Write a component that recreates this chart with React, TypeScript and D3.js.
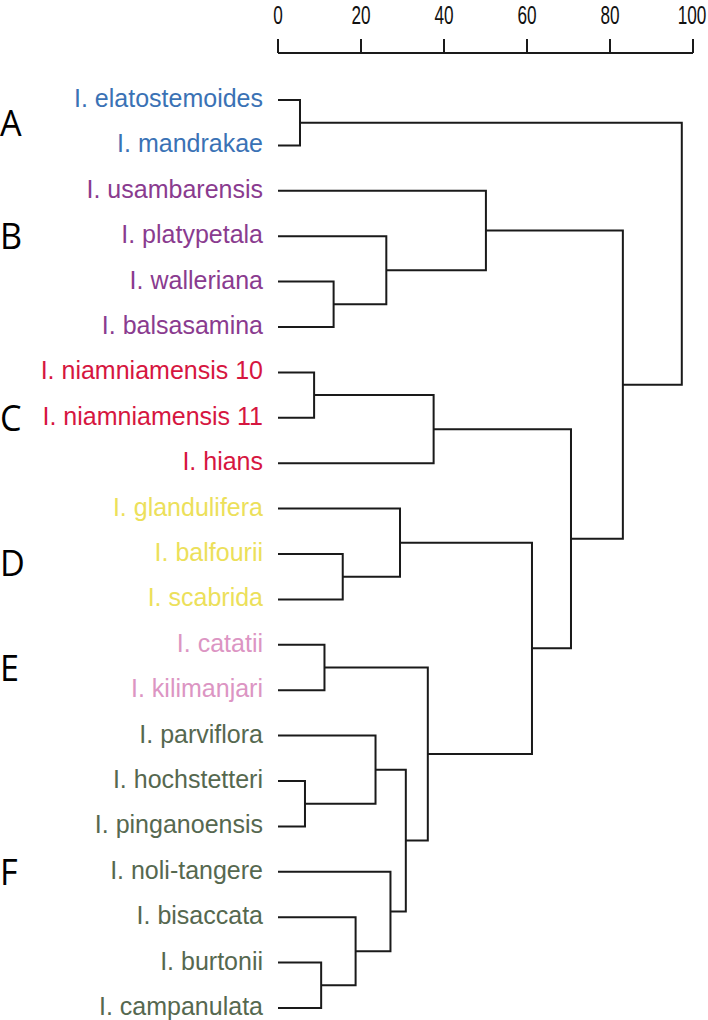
import React from "react";
import * as d3 from "d3";

// ---- Data ----
const leaves = [
  "I. elatostemoides",
  "I. mandrakae",
  "I. usambarensis",
  "I. platypetala",
  "I. walleriana",
  "I. balsasamina",
  "I. niamniamensis 10",
  "I. niamniamensis 11",
  "I. hians",
  "I. glandulifera",
  "I. balfourii",
  "I. scabrida",
  "I. catatii",
  "I. kilimanjari",
  "I. parviflora",
  "I. hochstetteri",
  "I. pinganoensis",
  "I. noli-tangere",
  "I. bisaccata",
  "I. burtonii",
  "I. campanulata",
];
const leafGroup = ["A","A","B","B","B","B","C","C","C","D","D","D","E","E","F","F","F","F","F","F","F"];

const groupNames = ["A", "B", "C", "D", "E", "F"];
const groupColors = ["#3a72b5", "#8a3b8f", "#d6163f", "#ece05a", "#dc95c3", "#56684f"];
const groupLetterRow = [0.5, 3, 7, 10.2, 12.5, 17];

// merges: [childA, childB, height]; strings = leaf names, numbers = earlier merge index
const mergeA: (string | number)[] = [
  "I. elatostemoides", "I. walleriana", "I. platypetala", "I. usambarensis",
  "I. niamniamensis 10", 4, "I. balfourii", "I. glandulifera",
  "I. catatii", "I. hochstetteri", "I. parviflora", "I. burtonii",
  "I. bisaccata", "I. noli-tangere", 10, 8, 7, 5, 3, 0,
];
const mergeB: (string | number)[] = [
  "I. mandrakae", "I. balsasamina", 1, 2,
  "I. niamniamensis 11", "I. hians", "I. scabrida", 6,
  "I. kilimanjari", "I. pinganoensis", 9, "I. campanulata",
  11, 12, 13, 14, 15, 16, 17, 18,
];
const mergeHeight = [
  5.3, 13.4, 26.1, 50.1,
  8.7, 37.5, 15.6, 29.4,
  11.2, 6.5, 23.5, 10.4,
  18.7, 27.1, 30.8, 36.1, 61.2, 70.6, 83.1, 97.3,
];

const axisTicks = [0, 20, 40, 60, 80, 100];

// ---- Layout ----
const W = 708;
const H = 1020;

export default function App() {
  const x = d3.scaleLinear().domain([0, 100]).range([278, 693]);
  const y = d3.scaleLinear().domain([0, leaves.length - 1]).range([100, 1008]);

  const nodePos: { x: number; y: number }[] = [];
  const pos = (c: string | number) => {
    if (typeof c === "string") {
      const i = leaves.indexOf(c);
      return { x: x(0), y: y(i) };
    }
    return nodePos[c];
  };

  const paths: string[] = [];
  mergeHeight.forEach((h, i) => {
    const a = pos(mergeA[i]);
    const b = pos(mergeB[i]);
    const nx = x(h);
    const p = d3.path();
    p.moveTo(a.x, a.y);
    p.lineTo(nx, a.y);
    p.lineTo(nx, b.y);
    p.lineTo(b.x, b.y);
    paths.push(p.toString());
    nodePos[i] = { x: nx, y: (a.y + b.y) / 2 };
  });

  const axisY = 53;
  const lineColor = "#1a1a1a";

  return (
    <svg
      width={W}
      height={H}
      style={{ position: "absolute", left: 0, top: 0, background: "#fff" }}
    >
      {/* axis */}
      <g>
        <line x1={x(0)} x2={x(100)} y1={axisY} y2={axisY} stroke={lineColor} strokeWidth={2} />
        {axisTicks.map((t) => (
          <g key={t}>
            <line x1={x(t)} x2={x(t)} y1={axisY} y2={axisY - 14} stroke={lineColor} strokeWidth={2} />
            <text
              transform={`translate(${Math.min(x(t), 692)},24) scale(0.66,1)`}
              textAnchor="middle"
              fontFamily="'Liberation Sans', Arial, sans-serif"
              fontSize={26}
              fill="#111"
            >
              {t}
            </text>
          </g>
        ))}
      </g>

      {/* dendrogram */}
      <g fill="none" stroke={lineColor} strokeWidth={2}>
        {paths.map((d, i) => (
          <path key={i} d={d} />
        ))}
      </g>

      {/* leaf labels */}
      <g>
        {leaves.map((name, i) => {
          const gi = groupNames.indexOf(leafGroup[i]);
          return (
            <text
              key={name}
              x={263}
              y={y(i) + 7}
              textAnchor="end"
              fontFamily="'Liberation Sans', Arial, sans-serif"
              fontSize={25}
              fill={groupColors[gi]}
            >
              {name}
            </text>
          );
        })}
      </g>

      {/* group letters */}
      <g>
        {groupNames.map((g, i) => (
          <text
            key={g}
            transform={`translate(0,${y(groupLetterRow[i]) + 13}) scale(0.95,1)`}
            fontFamily="'Open Sans', 'Noto Sans', sans-serif"
            fontSize={36}
            fill="#000"
          >
            {g}
          </text>
        ))}
      </g>
    </svg>
  );
}
